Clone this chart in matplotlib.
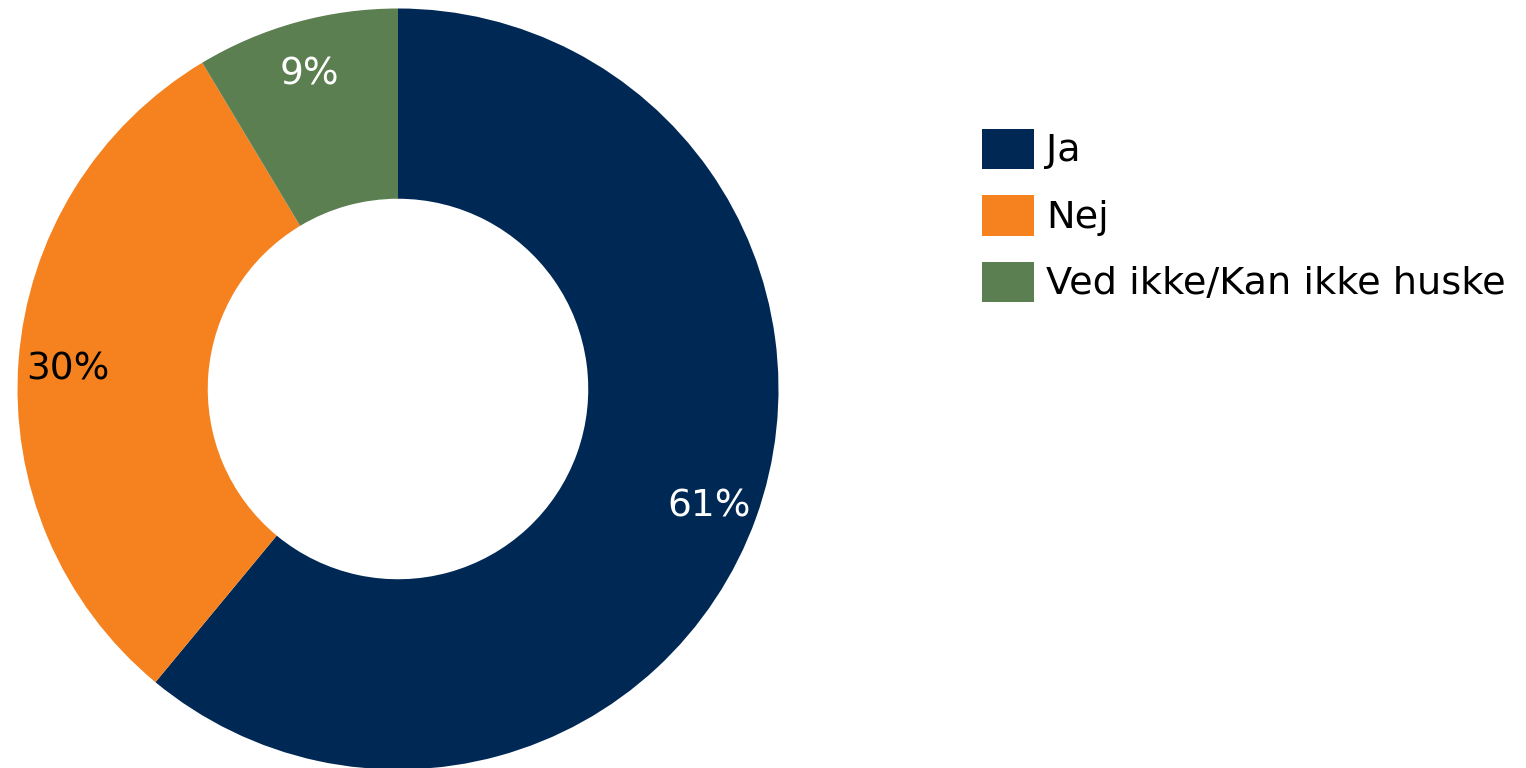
import matplotlib
matplotlib.use("Agg")
import matplotlib.pyplot as plt
from matplotlib.patches import Rectangle
from matplotlib.transforms import ScaledTranslation

categories = ["Ja", "Nej", "Ved ikke/Kan ikke huske"]
values = [61.0, 30.4, 8.6]
colors = ["#002855", "#F5821F", "#5B7F51"]
label_colors = ["white", "black", "white"]

W, H = 1526, 768
fig = plt.figure(figsize=(W / 100, H / 100), dpi=100)
plt.rcParams['font.family'] = ['DejaVu Sans']

cx, cy, R = 398, 389, 380.5
ax = fig.add_axes([(cx - R) / W, (H - cy - R) / H, 2 * R / W, 2 * R / H])
wedges, texts, autotexts = ax.pie(
    values, colors=colors, startangle=90, counterclock=False,
    radius=1, wedgeprops=dict(width=0.5, linewidth=0),
    autopct=lambda p: f"{p:.0f}%", pctdistance=0.87,
    textprops=dict(fontsize=27))
shift = ScaledTranslation(0, -5 / 100, fig.dpi_scale_trans)
for t, c in zip(autotexts, label_colors):
    t.set_color(c)
    t.set_transform(ax.transData + shift)
ax.set_xlim(-1, 1)
ax.set_ylim(-1, 1)
ax.set_aspect('equal')
ax.axis('off')

row0, step = 149, 66.5
for i, (cat, col) in enumerate(zip(categories, colors)):
    yc = row0 + i * step
    fig.patches.append(Rectangle(((982) / W, (H - yc - 20) / H), 52 / W, 40 / H,
                                 transform=fig.transFigure, facecolor=col, edgecolor='none'))
    fig.text(1046 / W, (H - yc - 2) / H, cat, fontsize=27.5, va='center', ha='left', color='black')

fig.savefig("out.png", dpi=100)
